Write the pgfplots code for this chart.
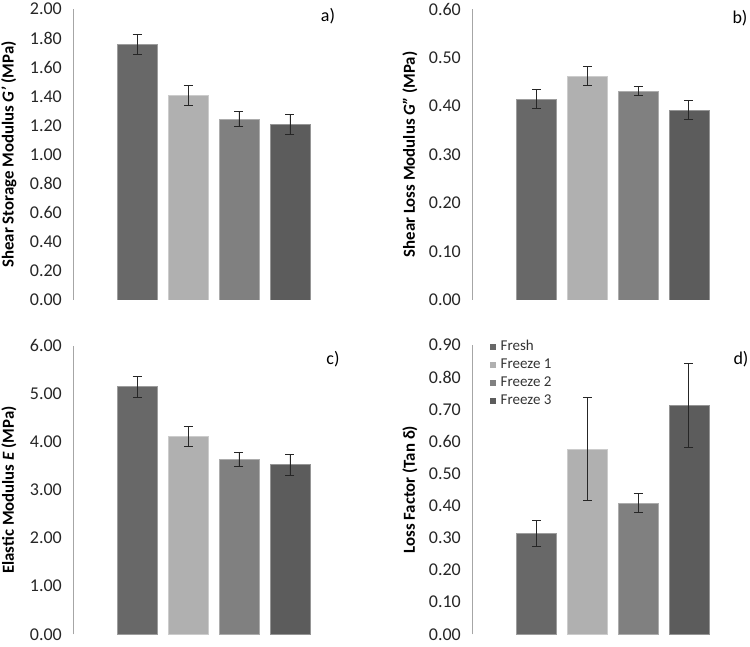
\documentclass[border=0pt]{standalone}
\usepackage{pgfplots}
\pgfplotsset{compat=1.18}
\usepackage{fontspec}
\setmainfont{Carlito}
\definecolor{cA}{HTML}{686868}
\definecolor{cB}{HTML}{B0B0B0}
\definecolor{cC}{HTML}{808080}
\definecolor{cD}{HTML}{5C5C5C}
\pgfplotsset{
  panel/.style={
    scale only axis,
    axis x line=none,
    axis y line*=left,
    y axis line style={draw=black!35, line width=0.8pt, -},
    ymin=0,
    xtick=\empty,
    major tick length=0pt,
    yticklabel style={font=\fontsize{18}{18}\selectfont, text=black!85, inner sep=0pt, xshift=-11pt, anchor=east},
    /pgf/number format/.cd, fixed, fixed zerofill, precision=2, assume math mode=true, /pgfplots/.cd,
    ylabel style={font=\bfseries\fontsize{16.8}{16.8}\selectfont, anchor=center},
    legend image code/.code={\fill[##1, draw=none] (0pt,-3pt) rectangle (6pt,3pt);},
  },
  leftpanel/.style={panel, width=281pt, xmin=-0.255, xmax=5.255,
    ylabel style={at={(axis description cs:-0.228,0.5)}}},
  rightpanel/.style={panel, width=278pt, xmin=-0.276, xmax=5.207,
    ylabel style={at={(axis description cs:-0.223,0.5)}}},
  bbar/.style={ybar, bar width=40pt, fill=#1, draw=#1!65!white, line width=0.6pt,
    error bars/.cd, y dir=both, y explicit,
    error bar style={black!85, line width=0.9pt},
    error mark options={black!85, line width=0.9pt, mark size=4.5pt, rotate=90}},
}
\begin{document}
\begin{tikzpicture}
\path[use as bounding box] (0,0) rectangle (750pt,646pt);
% a)
\begin{axis}[leftpanel, at={(73pt,346pt)}, anchor=south west, height=291pt,
  ymax=2, ytick distance=0.2, ylabel={Shear Storage Modulus \textit{G'} (MPa)}]
\addplot[bbar=cA] coordinates {(1,1.757) +- (0,0.068)};
\addplot[bbar=cB] coordinates {(2,1.405) +- (0,0.068)};
\addplot[bbar=cC] coordinates {(3,1.244) +- (0,0.050)};
\addplot[bbar=cD] coordinates {(4,1.205) +- (0,0.070)};
\end{axis}
% b)
\begin{axis}[rightpanel, at={(472pt,346pt)}, anchor=south west, height=291pt,
  ymax=0.6, ytick distance=0.1, ylabel={Shear Loss Modulus \textit{G''} (MPa)}]
\addplot[bbar=cA] coordinates {(1,0.414) +- (0,0.020)};
\addplot[bbar=cB] coordinates {(2,0.462) +- (0,0.020)};
\addplot[bbar=cC] coordinates {(3,0.431) +- (0,0.010)};
\addplot[bbar=cD] coordinates {(4,0.392) +- (0,0.020)};
\end{axis}
% c)
\begin{axis}[leftpanel, at={(73pt,11.7pt)}, anchor=south west, height=288.6pt,
  ymax=6, ytick distance=1, ylabel={Elastic Modulus \textit{E} (MPa)}]
\addplot[bbar=cA] coordinates {(1,5.148) +- (0,0.220)};
\addplot[bbar=cB] coordinates {(2,4.116) +- (0,0.210)};
\addplot[bbar=cC] coordinates {(3,3.638) +- (0,0.150)};
\addplot[bbar=cD] coordinates {(4,3.526) +- (0,0.215)};
\end{axis}
% d)
\begin{axis}[rightpanel, at={(472pt,11.7pt)}, anchor=south west, height=289.3pt,
  ymax=0.9, ytick distance=0.1, ylabel={Loss Factor (Tan δ)},
  legend cell align=left,
  legend style={at={(rel axis cs:0.0647,1.023)}, anchor=north west, draw=none, fill=none,
    inner sep=0pt, font=\fontsize{15}{15}\selectfont, text=black!80, row sep=2pt,
    nodes={text height=11pt, text depth=3pt, inner sep=1pt},
    /tikz/every odd column/.append style={column sep=3.5pt}}]
\addplot[bbar=cA] coordinates {(1,0.313) +- (0,0.040)};
\addplot[bbar=cB] coordinates {(2,0.577) +- (0,0.160)};
\addplot[bbar=cC] coordinates {(3,0.408) +- (0,0.030)};
\addplot[bbar=cD] coordinates {(4,0.711) +- (0,0.131)};
\legend{Fresh, Freeze 1, Freeze 2, Freeze 3}
\end{axis}
\node[font=\fontsize{18}{18}\selectfont] at (328pt,630pt) {a)};
\node[font=\fontsize{18}{18}\selectfont] at (740pt,628pt) {b)};
\node[font=\fontsize{18}{18}\selectfont] at (333pt,287pt) {c)};
\node[font=\fontsize{18}{18}\selectfont] at (741pt,287pt) {d)};
\end{tikzpicture}
\end{document}
